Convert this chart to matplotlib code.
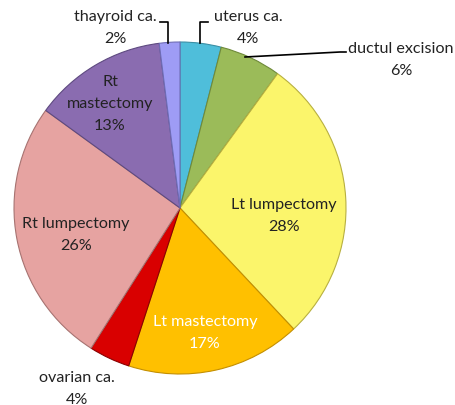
import matplotlib.pyplot as plt

# slices, clockwise from 12 o'clock
labels = ['uterus ca.', 'ductul excision', 'Lt lumpectomy', 'Lt mastectomy',
          'ovarian ca.', 'Rt lumpectomy', 'Rt\nmastectomy', 'thayroid ca.']
values = [4, 6, 28, 17, 4, 26, 13, 2]
colors = ['#4FBEDA', '#9BBB59', '#FBF56B', '#FFC000',
          '#D90000', '#E6A3A1', '#8A6CB0', '#9E9CF5']

H = 406  # picture height in px, text positions below are in px from the top
label_pos = [(248, 28), (401, 60), (284, 216), (205, 333),
             (77, 389), (76, 235), (110, 104), (115, 28)]
text_colors = ['#222222'] * 8
text_colors[3] = 'white'

plt.rcParams['font.family'] = ['Lato', 'DejaVu Sans']

fig = plt.figure(figsize=(4.55, 4.06), dpi=100)
ax = fig.add_axes([0, 0, 1, 1])

edge = ['#3A8FA5', '#6F8A3A', '#B8B040', '#C48F00',
        '#8A0000', '#A77371', '#5E4A80', '#6E6CB5']
wedges, _ = ax.pie(values, colors=colors, startangle=90, counterclock=False,
                   center=(180, H - 209), radius=166, frame=True,
                   wedgeprops=dict(linewidth=0.8))
for w, ec in zip(wedges, edge):
    w.set_edgecolor(ec)
ax.set_xlim(0, 455)
ax.set_ylim(0, H)
ax.set_aspect('equal')
ax.axis('off')

for name, v, (x, y), c in zip(labels, values, label_pos, text_colors):
    ax.text(x, H - y, f'{name}\n{v}%', ha='center', va='center',
            fontsize=11.6, color=c, linespacing=1.75)

# leader lines
ax.plot([160, 168, 168], [H - 23, H - 23, H - 44], color='black', lw=1.2)
ax.plot([208, 200, 200], [H - 23, H - 23, H - 44], color='black', lw=1.2)
ax.plot([245, 340, 346], [H - 58, H - 53, H - 53], color='black', lw=1.2)

fig.savefig('out.png', dpi=100)
